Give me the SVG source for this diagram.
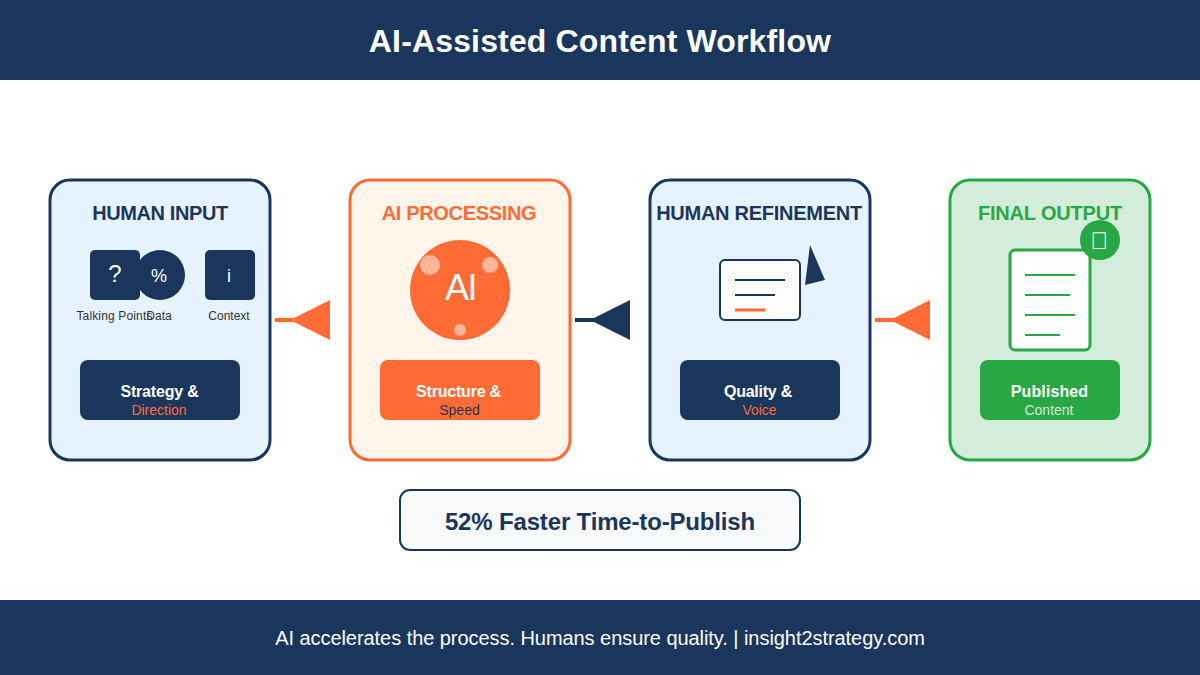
<svg xmlns="http://www.w3.org/2000/svg" width="1200" height="675" viewBox="0 0 1200 675">
<style>
text{font-family:"Liberation Sans",Arial,sans-serif;text-anchor:middle}
.card{stroke-width:3}
.navy{fill:#1a365d}.orange{fill:#ff6b35}.green{fill:#28a745}
.ttl{font-size:20px;font-weight:700}
.lbl{font-size:12px;fill:#333}
.b{font-size:16px;font-weight:700;fill:#fff}
.s{font-size:14px}
.w{fill:#fff}
.dot{fill:#fff;opacity:.5}
.nl{stroke:#1a365d;stroke-width:2}
.gl{stroke:#28a745;stroke-width:2}
</style>
<rect width="1200" height="675" fill="#fff"/>
<g id="header"><rect width="1200" height="80" class="navy"/>
<text x="600" y="52" font-size="32" font-weight="700" fill="#fff" letter-spacing=".15">AI-Assisted Content Workflow</text></g>
<g id="human-input">
<rect class="card" x="50" y="180" width="220" height="280" rx="20" fill="#e6f3ff" stroke="#1a365d"/>
<text class="ttl navy" x="160" y="220" letter-spacing="-.4">HUMAN INPUT</text>
<rect class="navy" x="90" y="250" width="50" height="50" rx="5"/>
<text class="w" x="115" y="282" font-size="24">?</text>
<circle class="navy" cx="160" cy="275" r="25"/>
<text class="w" x="159" y="282" font-size="18">%</text>
<rect class="navy" x="205" y="250" width="50" height="50" rx="5"/>
<text class="w" x="229" y="282" font-size="18">i</text>
<text class="lbl" x="114.500" y="320" letter-spacing=".15">Talking Points</text>
<text class="lbl" x="159" y="320">Data</text>
<text class="lbl" x="229" y="320">Context</text>
<rect class="navy" x="80" y="360" width="160" height="60" rx="8"/>
<text class="b" x="159.500" y="397" letter-spacing="-.2">Strategy &amp;</text>
<text class="s orange" x="159" y="415">Direction</text>
</g>
<g id="ai-processing">
<rect class="card" x="350" y="180" width="220" height="280" rx="20" fill="#fff5eb" stroke="#ff6b35"/>
<text class="ttl orange" x="459" y="220" letter-spacing="-.33">AI PROCESSING</text>
<circle class="orange" cx="460" cy="290" r="50"/>
<circle class="dot" cx="430" cy="265" r="10"/>
<circle class="dot" cx="490" cy="265" r="8"/>
<circle class="dot" cx="460" cy="330" r="6"/>
<text class="w" x="460.500" y="300" font-size="36" letter-spacing="-1.500">AI</text>
<rect class="orange" x="380" y="360" width="160" height="60" rx="8"/>
<text class="b" x="458.500" y="397" letter-spacing="-.2">Structure &amp;</text>
<text class="s navy" x="459.500" y="415">Speed</text>
</g>
<g id="human-refinement">
<rect class="card" x="650" y="180" width="220" height="280" rx="20" fill="#e6f3ff" stroke="#1a365d"/>
<text class="ttl navy" x="759" y="220" letter-spacing="-.27">HUMAN REFINEMENT</text>
<rect x="720" y="260" width="80" height="60" rx="5" fill="#fff" stroke="#1a365d" stroke-width="2"/>
<line class="nl" x1="735" y1="280" x2="785" y2="280"/>
<line class="nl" x1="735" y1="295" x2="775" y2="295"/>
<line x1="735" y1="310" x2="765" y2="310" stroke="#ff6b35" stroke-width="3"/>
<polygon class="navy" points="810,245 825,280 805,285"/>
<rect class="navy" x="680" y="360" width="160" height="60" rx="8"/>
<text class="b" x="758" y="397" letter-spacing="-.25">Quality &amp;</text>
<text class="s orange" x="759.500" y="415">Voice</text>
</g>
<g id="final-output">
<rect class="card" x="950" y="180" width="200" height="280" rx="20" fill="#d4edda" stroke="#28a745"/>
<text class="ttl green" x="1050" y="220" letter-spacing="-.18">FINAL OUTPUT</text>
<rect x="1010" y="250" width="80" height="100" rx="5" fill="#fff" stroke="#28a745" stroke-width="3"/>
<line class="gl" x1="1025" y1="275" x2="1075" y2="275"/>
<line class="gl" x1="1025" y1="295" x2="1070" y2="295"/>
<line class="gl" x1="1025" y1="315" x2="1075" y2="315"/>
<line class="gl" x1="1025" y1="335" x2="1060" y2="335"/>
<circle class="green" cx="1100" cy="240" r="20"/>
<text class="w" x="1099.500" y="249" font-size="24">&#xE000;</text>
<rect class="green" x="980" y="360" width="140" height="60" rx="8"/>
<text class="b" x="1049.500" y="397" letter-spacing=".1">Published</text>
<text class="s" x="1049" y="415" fill="#d4edda">Content</text>
</g>
<g id="connectors">
<line x1="275" y1="320" x2="295" y2="320" stroke="#ff6b35" stroke-width="4"/>
<polygon class="orange" points="330,300 290,320 330,340"/>
<line x1="575" y1="320" x2="595" y2="320" stroke="#1a365d" stroke-width="4"/>
<polygon class="navy" points="630,300 590,320 630,340"/>
<line x1="875" y1="320" x2="895" y2="320" stroke="#ff6b35" stroke-width="4"/>
<polygon class="orange" points="930,300 890,320 930,340"/>
</g>
<g id="metric">
<rect x="400" y="490" width="400" height="60" rx="10" fill="#f8f9fa" stroke="#1a365d" stroke-width="2"/>
<text class="navy" x="600" y="530" font-size="24" font-weight="700" letter-spacing="-.16">52% Faster Time-to-Publish</text>
</g>
<g id="footer"><rect y="600" width="1200" height="75" class="navy"/>
<text x="600" y="645" font-size="20" fill="#fff" letter-spacing="-.055">AI accelerates the process. Humans ensure quality. | insight2strategy.com</text></g>
</svg>
